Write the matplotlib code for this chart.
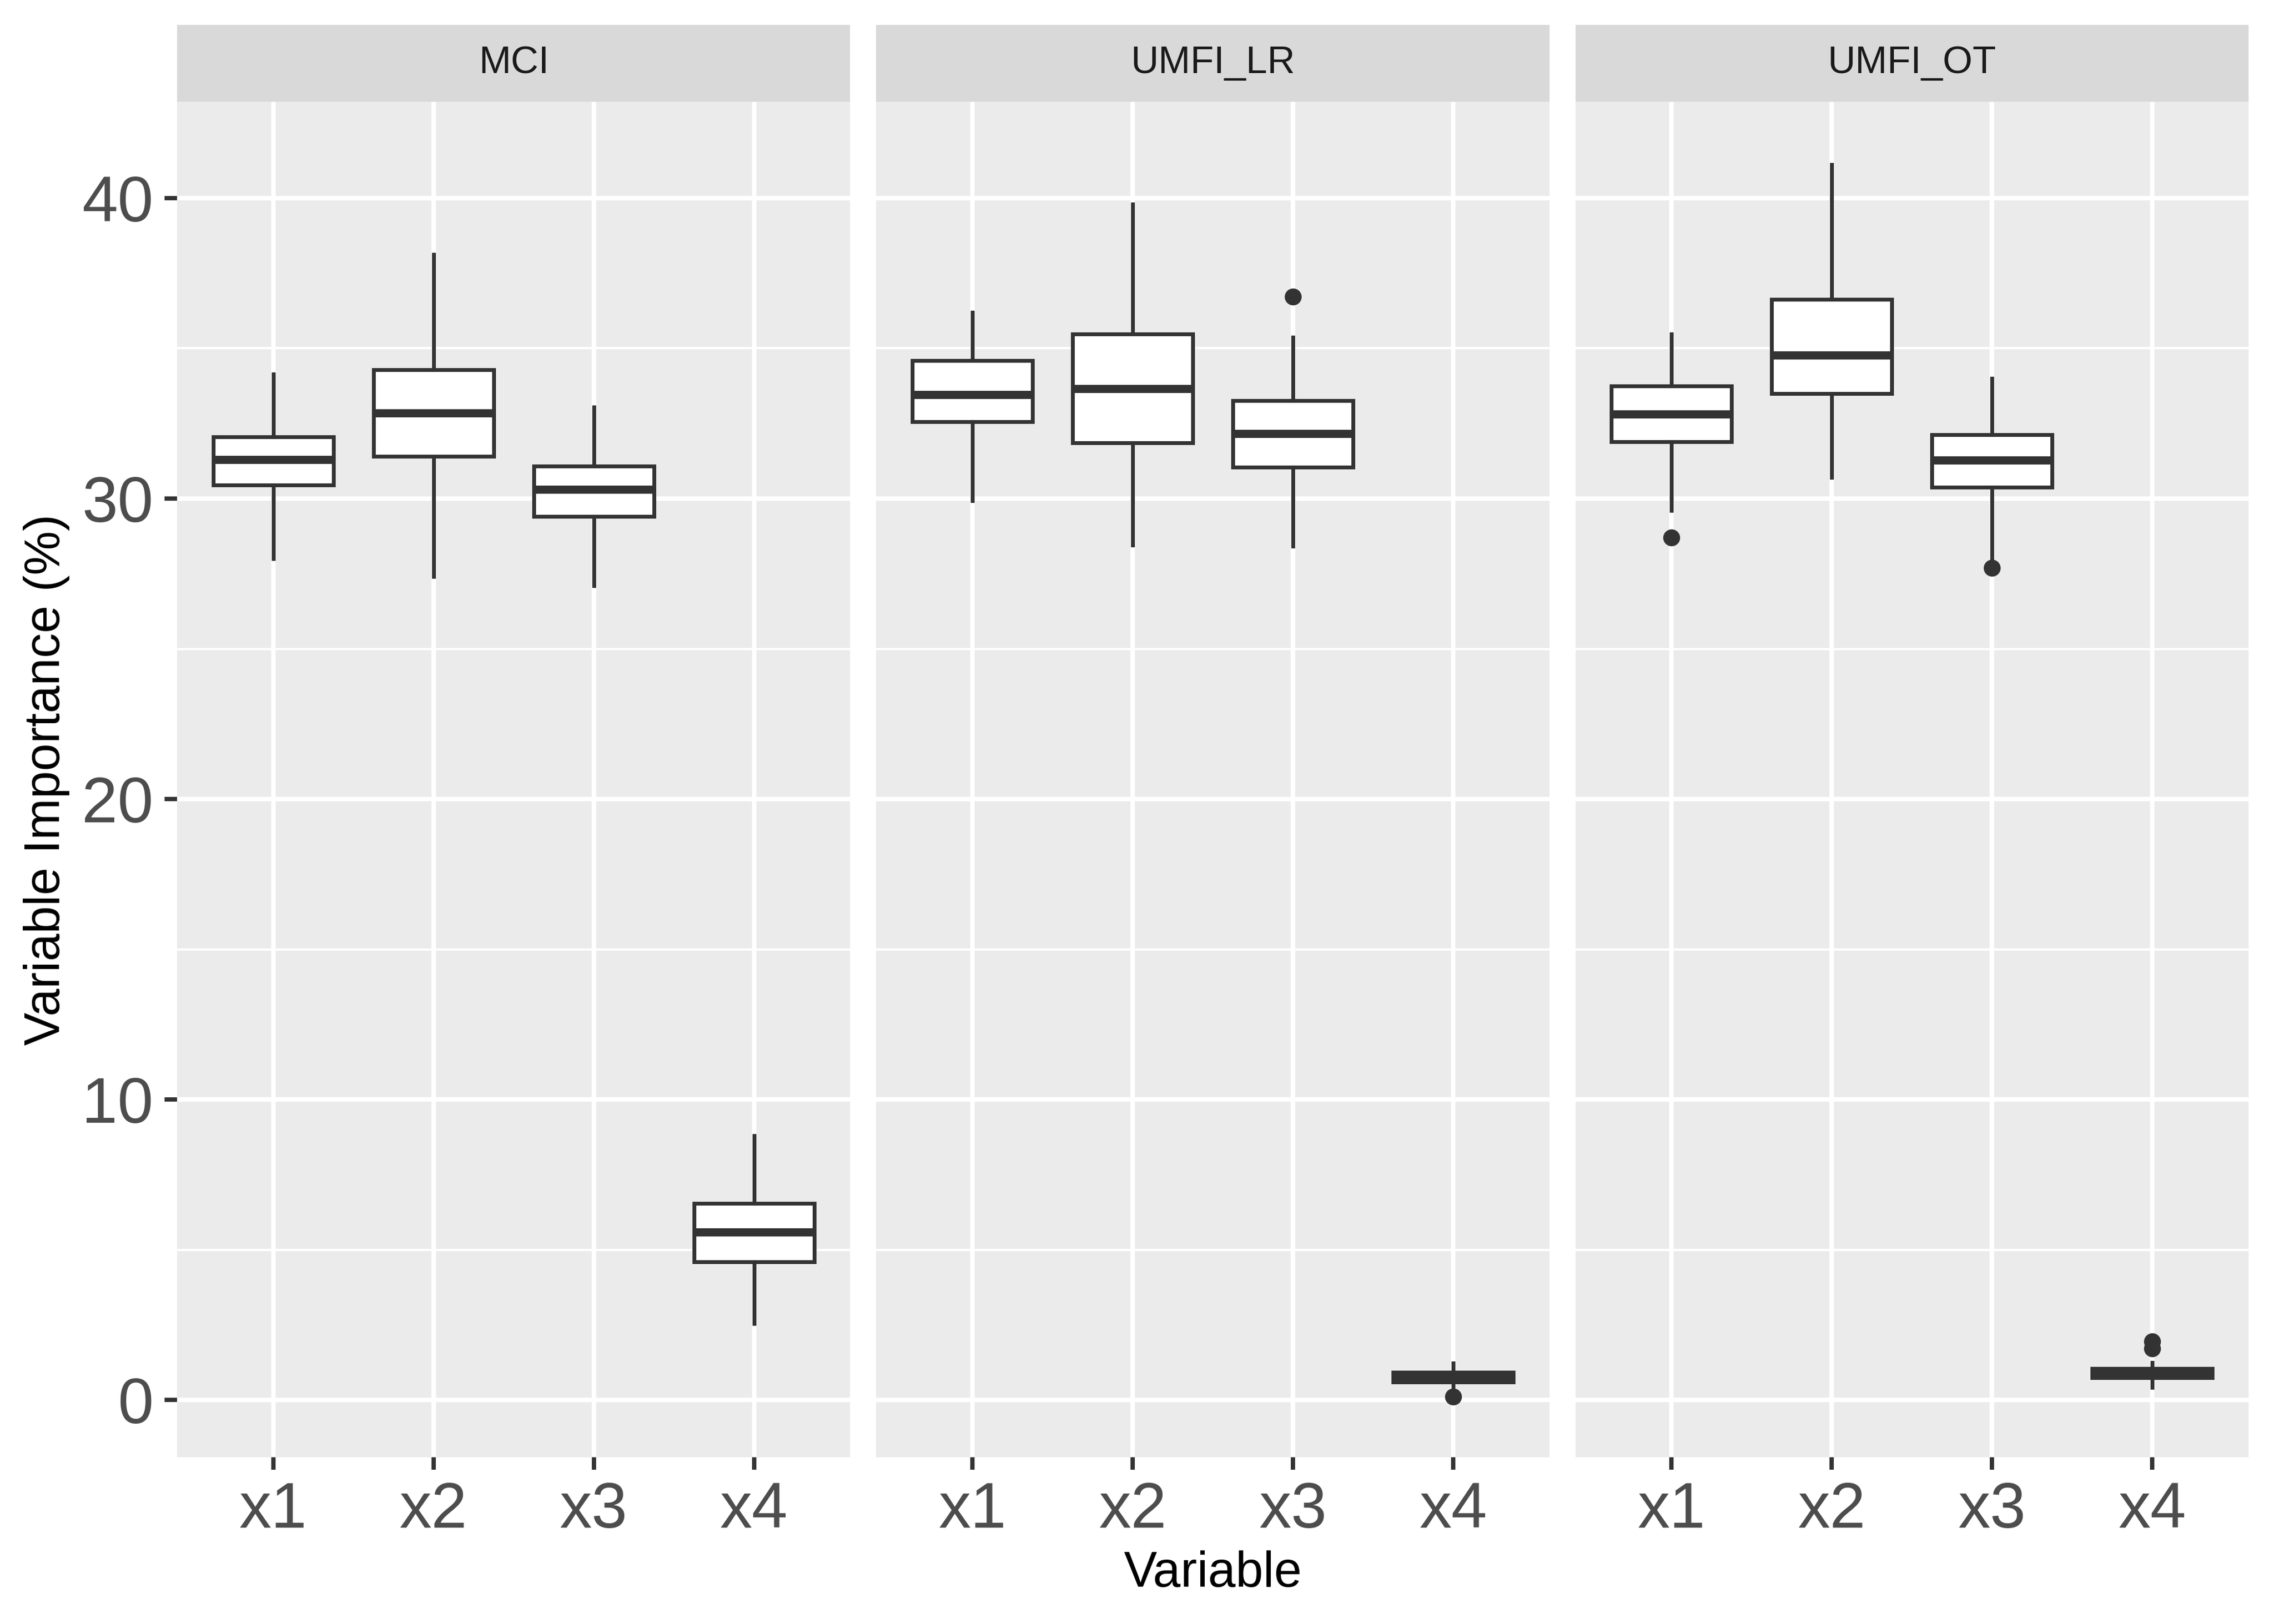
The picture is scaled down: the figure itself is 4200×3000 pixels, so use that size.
import numpy as np
import matplotlib.pyplot as plt
from matplotlib.ticker import MultipleLocator

plt.rcParams['font.family'] = ['Liberation Sans', 'DejaVu Sans']

# 数据：每个面板的箱线图统计量
panels = ['MCI', 'UMFI_LR', 'UMFI_OT']
variables = ['x1', 'x2', 'x3', 'x4']

mci_whislo = [28.0, 27.4, 27.1, 2.55]
mci_q1 = [30.45, 31.4, 29.4, 4.6]
mci_med = [31.3, 32.85, 30.3, 5.6]
mci_q3 = [32.05, 34.28, 31.08, 6.55]
mci_whishi = [34.15, 38.12, 33.04, 8.79]
mci_fliers = [[], [], [], []]

lr_whislo = [29.92, 28.45, 28.42, 0.45]
lr_q1 = [32.55, 31.85, 31.05, 0.6]
lr_med = [33.45, 33.66, 32.16, 0.76]
lr_q3 = [34.6, 35.48, 33.25, 0.92]
lr_whishi = [36.2, 39.79, 35.36, 1.24]
lr_fliers = [[], [], [36.71], [0.12]]

ot_whislo = [29.6, 30.71, 28.0, 0.43]
ot_q1 = [31.89, 33.49, 30.38, 0.74]
ot_med = [32.8, 34.77, 31.27, 0.86]
ot_q3 = [33.75, 36.62, 32.13, 1.05]
ot_whishi = [35.48, 41.12, 34.0, 1.25]
ot_fliers = [[28.7], [], [27.7], [1.72, 1.95]]

stats_all = [
    (mci_whislo, mci_q1, mci_med, mci_q3, mci_whishi, mci_fliers),
    (lr_whislo, lr_q1, lr_med, lr_q3, lr_whishi, lr_fliers),
    (ot_whislo, ot_q1, ot_med, ot_q3, ot_whishi, ot_fliers),
]

fig = plt.figure(figsize=(14, 10), dpi=300)

left = 0.0779
w = 0.2960
gap = 0.01143
bottom = 0.1027
h = 0.8346
strip_h = 0.0474

dark = '#333333'
for i, name in enumerate(panels):
    x0 = left + i * (w + gap)
    ax = fig.add_axes([x0, bottom, w, h])
    ax.set_facecolor('#EBEBEB')
    ax.set_axisbelow(True)
    for s in ax.spines.values():
        s.set_visible(False)

    whislo, q1, med, q3, whishi, fliers = stats_all[i]
    stats = []
    for j in range(len(variables)):
        stats.append(dict(whislo=whislo[j], q1=q1[j], med=med[j], q3=q3[j],
                          whishi=whishi[j], fliers=fliers[j]))
    pos = np.arange(1, len(variables) + 1)
    ax.bxp(stats, positions=pos, widths=0.75, showcaps=False, patch_artist=True,
           boxprops=dict(facecolor='white', edgecolor=dark, linewidth=1.7),
           medianprops=dict(color=dark, linewidth=3.6, solid_capstyle='butt'),
           whiskerprops=dict(color=dark, linewidth=1.7),
           flierprops=dict(marker='o', markerfacecolor=dark, markeredgecolor='none',
                           markersize=7.5))

    ax.set_xlim(0.4, 4.6)
    ax.set_ylim(-1.9, 43.2)
    ax.yaxis.set_major_locator(MultipleLocator(10))
    ax.yaxis.set_minor_locator(MultipleLocator(5))
    ax.set_xticks(pos)
    ax.set_xticklabels(variables)
    ax.grid(True, which='major', color='white', linewidth=2.0)
    ax.grid(True, which='minor', axis='y', color='white', linewidth=1.0)
    ax.tick_params(axis='both', which='major', length=5.5, width=1.9, color=dark,
                   labelsize=28.5, labelcolor='#4D4D4D', pad=5)
    ax.tick_params(axis='y', which='minor', length=0)
    if i > 0:
        ax.tick_params(axis='y', which='both', length=0, labelleft=False)

    # 分面标题条
    sax = fig.add_axes([x0, bottom + h, w, strip_h])
    sax.set_facecolor('#D9D9D9')
    sax.set_xticks([])
    sax.set_yticks([])
    for s in sax.spines.values():
        s.set_visible(False)
    sax.text(0.5, 0.5, name, ha='center', va='center', fontsize=17,
             color='#1A1A1A', transform=sax.transAxes)

fig.text(0.0205, bottom + h / 2, 'Variable Importance (%)', rotation=90,
         ha='center', va='center', fontsize=22)
fig.text(left + (3 * w + 2 * gap) / 2, 0.031, 'Variable', ha='center',
         va='center', fontsize=22)

plt.savefig('out.png', dpi=300, facecolor='white')
